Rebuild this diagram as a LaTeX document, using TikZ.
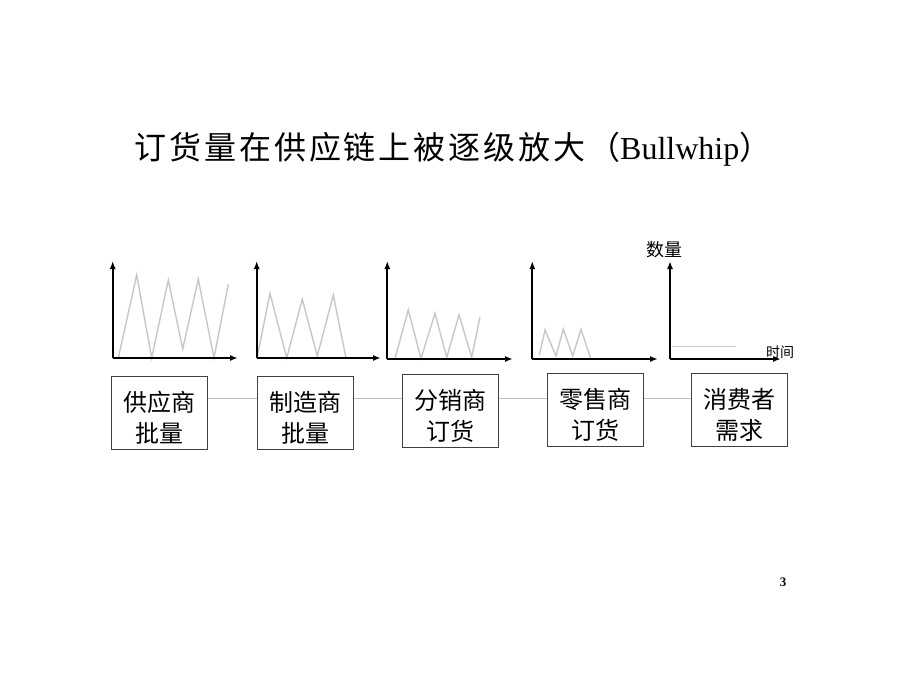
\documentclass[tikz,border=0pt]{standalone}
\usepackage{fontspec}
\setmainfont{Liberation Serif}
\newfontfamily\cjk{Noto Sans CJK SC}
\newfontfamily\cjkwide[LetterSpace=9]{Noto Sans CJK SC}
\usetikzlibrary{arrows.meta}
\newcommand{\topstrut}{\rule{0pt}{30pt}}
\tikzset{
  axis/.style={line width=2pt, -{Latex[length=8pt,width=6pt]}},
  zig/.style={line width=1.4pt, color=black!22, line join=miter},
  stage/.style={draw=black!75, line width=1pt, minimum width=96pt, minimum height=73pt, inner sep=0pt, align=center, font=\cjk\fontsize{24}{31}\selectfont},
  conn/.style={draw=black!25, line width=0.8pt},
}
\begin{document}
\begin{tikzpicture}[x=1pt,y=-1pt]
\useasboundingbox[fill=white] (0,0) rectangle (920,690);
% title
\node[font=\fontsize{32}{36}\selectfont, anchor=center] (title) at (453,149) {{\cjkwide 订货量在供应链上被逐级放大（}Bullwhip{\cjk ）}};
% boxes
\node[stage] (b1) at (159.5,412.5) {\topstrut 供应商\\批量};
\node[stage] (b2) at (305,412.5) {\topstrut 制造商\\批量};
\node[stage] (b3) at (450.5,411) {\topstrut 分销商\\订货};
\node[stage] (b4) at (595.3,409.5) {\topstrut 零售商\\订货};
\node[stage] (b5) at (739.5,410) {\topstrut 消费者\\需求};
\draw[conn] (b1.east |- 0,398) -- (b2.west |- 0,398);
\draw[conn] (b2.east |- 0,398) -- (b3.west |- 0,398);
\draw[conn] (b3.east |- 0,398) -- (b4.west |- 0,398);
\draw[conn] (b4.east |- 0,398) -- (b5.west |- 0,398);
% chart 1
\draw[zig] (118.3,358) -- (136.7,275) -- (151.7,358) -- (168.3,280) -- (182.7,349) -- (198.3,279.3) -- (214,358) -- (228.3,284.3);
\draw[axis] (112.7,358) -- (112.7,261);
\draw[axis] (112.7,358) -- (238,358);
% chart 2
\draw[zig] (257.3,356.7) -- (270,293.3) -- (286.7,358) -- (302.3,299.3) -- (317.3,356) -- (333.3,295) -- (346,358);
\draw[axis] (256.7,358) -- (256.7,261);
\draw[axis] (256.7,358) -- (381,358);
% chart 3
\draw[zig] (395,358.5) -- (408.3,310) -- (421,358.5) -- (435,313.3) -- (446.7,357.3) -- (459,315) -- (471.7,357.3) -- (480,316.7);
\draw[axis] (387.3,359) -- (387.3,261);
\draw[axis] (387.3,359) -- (513,359);
% chart 4
\draw[zig] (539.3,355) -- (545,330) -- (556,356) -- (563.3,329) -- (572.7,356) -- (581,329.3) -- (590.7,358.5);
\draw[axis] (532.3,359) -- (532.3,261);
\draw[axis] (532.3,359) -- (658,359);
% chart 5
\draw[zig, line width=0.9pt] (671.7,346) -- (736,346);
\draw[axis] (670,359) -- (670,261);
\draw[axis] (670,359) -- (781,359);
\node[font=\cjk\fontsize{18}{20}\selectfont, inner sep=0pt] (yl) at (664,250) {数量};
\node[font=\cjk\fontsize{14}{16}\selectfont, inner sep=0pt] (xl) at (780,352) {时间};
% page number
\node[font=\bfseries\fontsize{13}{14}\selectfont, inner sep=0pt] (pg) at (783,582) {3};
\end{tikzpicture}
\end{document}
